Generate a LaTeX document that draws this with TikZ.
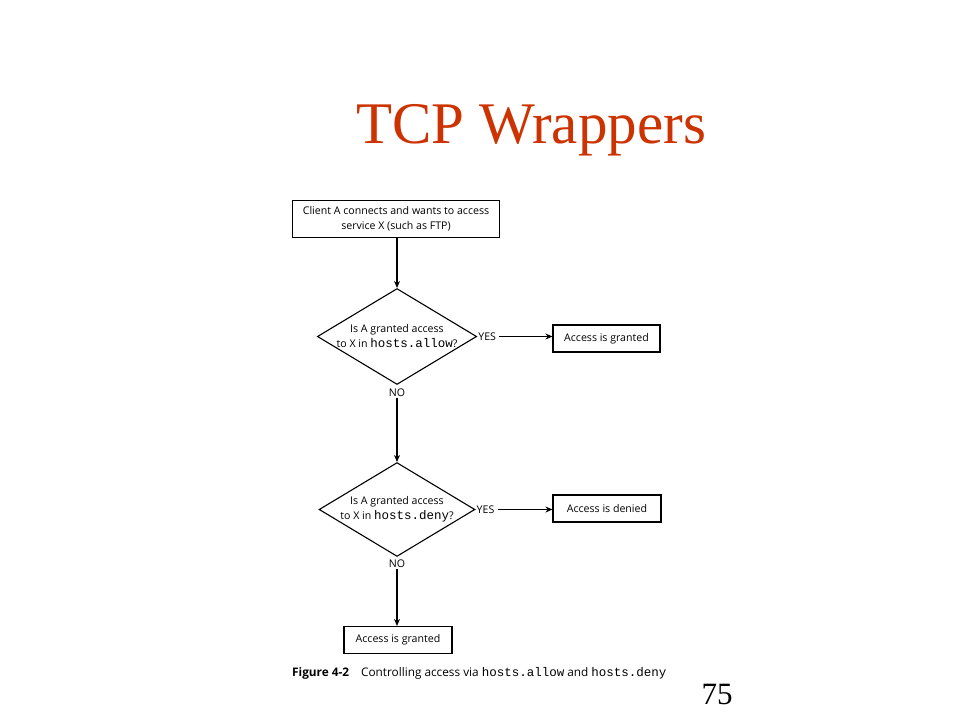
\documentclass[tikz,border=0pt]{standalone}
\usepackage{fontspec}
\setmainfont{Liberation Serif}
\newfontfamily\diagfont{Open Sans}
\newfontfamily\diagmono{Liberation Mono}
\usetikzlibrary{shapes.geometric,arrows.meta}
\definecolor{titlered}{RGB}{204,51,0}
\newcommand{\monotxt}[1]{{\diagmono\fontsize{12.5}{14}\selectfont #1}}
\tikzset{
  flowbox/.style={draw, line width=1.1pt, inner sep=2pt, align=center, font=\diagfont\fontsize{10.6}{15}\selectfont},
  decision/.style={draw, diamond, aspect=1.66, line width=1.1pt, inner sep=0pt, align=center, minimum width=154pt, minimum height=93pt, font=\diagfont\fontsize{10.6}{15}\selectfont},
  lbl/.style={inner sep=1pt, font=\diagfont\fontsize{10.6}{12}\selectfont},
  flowarrow/.style={line width=1.1pt, -{Stealth[length=7pt,width=6pt]}}
}
\begin{document}
\begin{tikzpicture}[x=1pt,y=-1pt]
\useasboundingbox (0,0) rectangle (960,720);
\node[anchor=base, inner sep=0pt, text=titlered, font=\fontsize{59}{63}\selectfont] (title) at (531,143) {TCP Wrappers};

\node[flowbox, minimum width=207pt, minimum height=37pt] (start) at (396,219) {Client A connects and wants to access\\service X (such as FTP)};

\node[decision] (d1) at (397,336.5) {Is A granted access\\to X in \monotxt{hosts.allow}?};
\node[lbl, anchor=west] (yes1) at (d1.east) {YES};
\node[flowbox, minimum width=107pt, minimum height=27pt] (g1) at (606.5,338.5) {Access is granted};
\node[lbl, anchor=north] (no1) at ([yshift=-3pt]d1.south) {NO};

\node[decision] (d2) at (397,509.5) {Is A granted access\\to X in \monotxt{hosts.deny}?};
\node[lbl, anchor=west] (yes2) at (d2.east) {YES};
\node[flowbox, minimum width=108pt, minimum height=27pt] (dn) at (607,508.5) {Access is denied};
\node[lbl, anchor=north] (no2) at ([yshift=-2pt]d2.south) {NO};

\node[flowbox, minimum width=108pt, minimum height=27pt] (g2) at (398,640) {Access is granted};

\draw[flowarrow] (start.south -| d1.north) -- (d1.north);
\draw[flowarrow] (yes1.east) ++(2pt,0) -- (g1.west |- yes1.east);
\draw[flowarrow] (no1.south -| d2.north) -- (d2.north);
\draw[flowarrow] (yes2.east) ++(2pt,0) -- (dn.west |- yes2.east);
\draw[flowarrow] (no2.south) -- (g2.north -| no2.south);

\node[anchor=base west, inner sep=0pt, font=\diagfont\fontsize{11.8}{14}\selectfont] (cap) at (292,676) {{\bfseries Figure 4-2}\hspace{12pt}Controlling access via \monotxt{hosts.allow} and \monotxt{hosts.deny}};

\node[anchor=base, inner sep=0pt, font=\fontsize{31}{34}\selectfont] (pnum) at (717,704) {75};
\end{tikzpicture}
\end{document}
